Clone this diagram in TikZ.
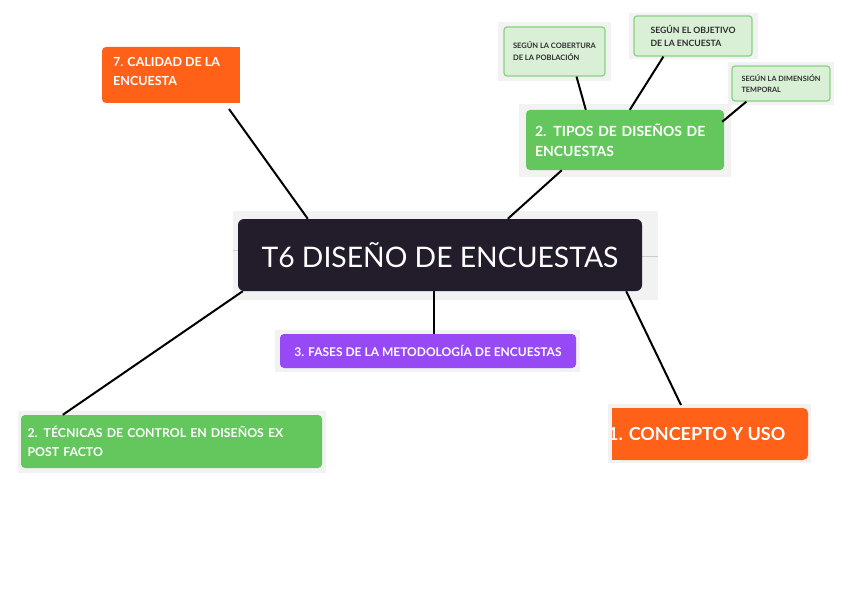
\documentclass[tikz,border=0pt]{standalone}
\usepackage{fontspec}
\usetikzlibrary{calc}
\setmainfont{Lato}
\newcommand\latob{\bfseries}
\definecolor{darkbox}{HTML}{221C2B}
\definecolor{orangebox}{HTML}{FF6119}
\definecolor{greenbox}{HTML}{63C75D}
\definecolor{lightgreen}{HTML}{D9F0D6}
\definecolor{greenborder}{HTML}{86D47F}
\definecolor{purplebox}{HTML}{9649F5}
\definecolor{patch}{HTML}{F2F2F2}
\definecolor{smalltext}{HTML}{2E2E2E}
\tikzset{
  box/.style={rectangle, rounded corners=4pt, inner sep=0pt, text=white, align=left},
  subbox/.style={rectangle, rounded corners=3pt, fill=lightgreen, draw=greenborder, line width=1.2pt, inner sep=0pt, align=left, text=smalltext, font=\latob\fontsize{7.5}{12}\selectfont},
  link/.style={draw=black, line width=2pt},
  bgpatch/.style={fill=patch, draw=none}
}
\begin{document}
\begin{tikzpicture}[x=1pt,y=-1pt]
\useasboundingbox[fill=white] (0,0) rectangle (848,599);
% background patches
\fill[bgpatch] (233,211) rectangle (658,300);
\fill[bgpatch] (275,330) rectangle (580,372);
\fill[bgpatch] (18,411) rectangle (326,473);
\fill[bgpatch] (608,404) rectangle (811,463);
\fill[bgpatch] (519,104) rectangle (731,177);
\fill[bgpatch] (498,22) rectangle (611,81);
\fill[bgpatch] (629,13) rectangle (758,59);
\fill[bgpatch] (728,62) rectangle (834,105);
% faint grey lines
\draw[gray!40, line width=0.8pt] (642,256) -- (658,256);
\draw[gray!40, line width=0.8pt] (233,250) -- (238,250);
% central
\node[box, fill=darkbox, rounded corners=6pt, minimum width=404pt, minimum height=72pt, align=center, font=\fontsize{28.3}{34}\selectfont] (central) at (440,255) {T6 DISEÑO DE ENCUESTAS};
% calidad
\fill[orangebox, rounded corners=4pt] (102,47) rectangle (236,103);
\fill[orangebox] (220,47) rectangle (240,103);
\node[anchor=north west, inner sep=0pt, text=white, align=left, font=\latob\fontsize{12.5}{19}\selectfont] (calidad) at (113,57.5) {7. CALIDAD DE LA\\ENCUESTA};
\coordinate (calidadb) at (229,109);
% tipos
\node[box, fill=greenbox, minimum width=198pt, minimum height=60pt, text width=180pt, font=\latob\fontsize{14}{20}\selectfont] (tipos) at (625,140) {2. TIPOS DE DISEÑOS DE\\ENCUESTAS};
% sub boxes
\node[subbox, minimum width=101pt, minimum height=49pt] (cobertura) at (554.5,51.5) {SEGÚN LA COBERTURA\\DE LA POBLACIÓN};
\node[subbox, minimum width=118pt, minimum height=40pt, font=\latob\fontsize{8.7}{13}\selectfont] (objetivo) at (693,36) {SEGÚN EL OBJETIVO\\DE LA ENCUESTA};
\node[subbox, minimum width=98pt, minimum height=35pt, font=\latob\fontsize{7.3}{11}\selectfont] (dimension) at (781,83.5) {SEGÚN LA DIMENSIÓN\\TEMPORAL};
% fases
\node[box, fill=purplebox, minimum width=296pt, minimum height=34pt, align=center, font=\latob\fontsize{12}{14}\selectfont] (fases) at (428,351) {3. FASES DE LA METODOLOGÍA DE ENCUESTAS};
% tecnicas
\node[box, fill=greenbox, minimum width=301pt, minimum height=53pt, text width=288pt, font=\latob\fontsize{12.3}{19}\selectfont] (tecnicas) at (171.5,441.5) {2. TÉCNICAS DE CONTROL EN DISEÑOS EX\\POST FACTO};
% concepto
\fill[orangebox, rounded corners=5pt] (616,408) rectangle (808,460);
\fill[orangebox] (612,408) rectangle (630,460);
\begin{scope}
\clip (612,400) rectangle (820,470);
\node[anchor=west, inner sep=0pt, text=white, font=\latob\fontsize{18}{22}\selectfont] (concepto) at (608,434) {1. CONCEPTO Y USO};
\end{scope}
\coordinate (conceptot) at (681,405);
% links
\draw[link] (central.north west) ++(70,0) coordinate (c1) -- (calidadb);
\draw[link] (central.north west) ++(270,0) coordinate (c2) -- ($(tipos.south west)+(36,0)$);
\draw[link] (central.south west) ++(5,0) coordinate (c3) -- ($(tecnicas.north west)+(42,0)$);
\draw[link] (central.south) ++(-6,0) coordinate (c4) -- (fases.north -| c4);
\draw[link] (central.south east) ++(-16,0) coordinate (c5) -- (conceptot);
\draw[link] ($(tipos.north west)+(60,0)$) -- ($(cobertura.south)+(22,0)$);
\draw[link] ($(tipos.north west)+(104,0)$) -- ($(objetivo.south west)+(30,0)$);
\draw[link] ($(tipos.north east)+(-2,12)$) -- ($(dimension.south west)+(15,0)$);
\end{tikzpicture}
\end{document}
